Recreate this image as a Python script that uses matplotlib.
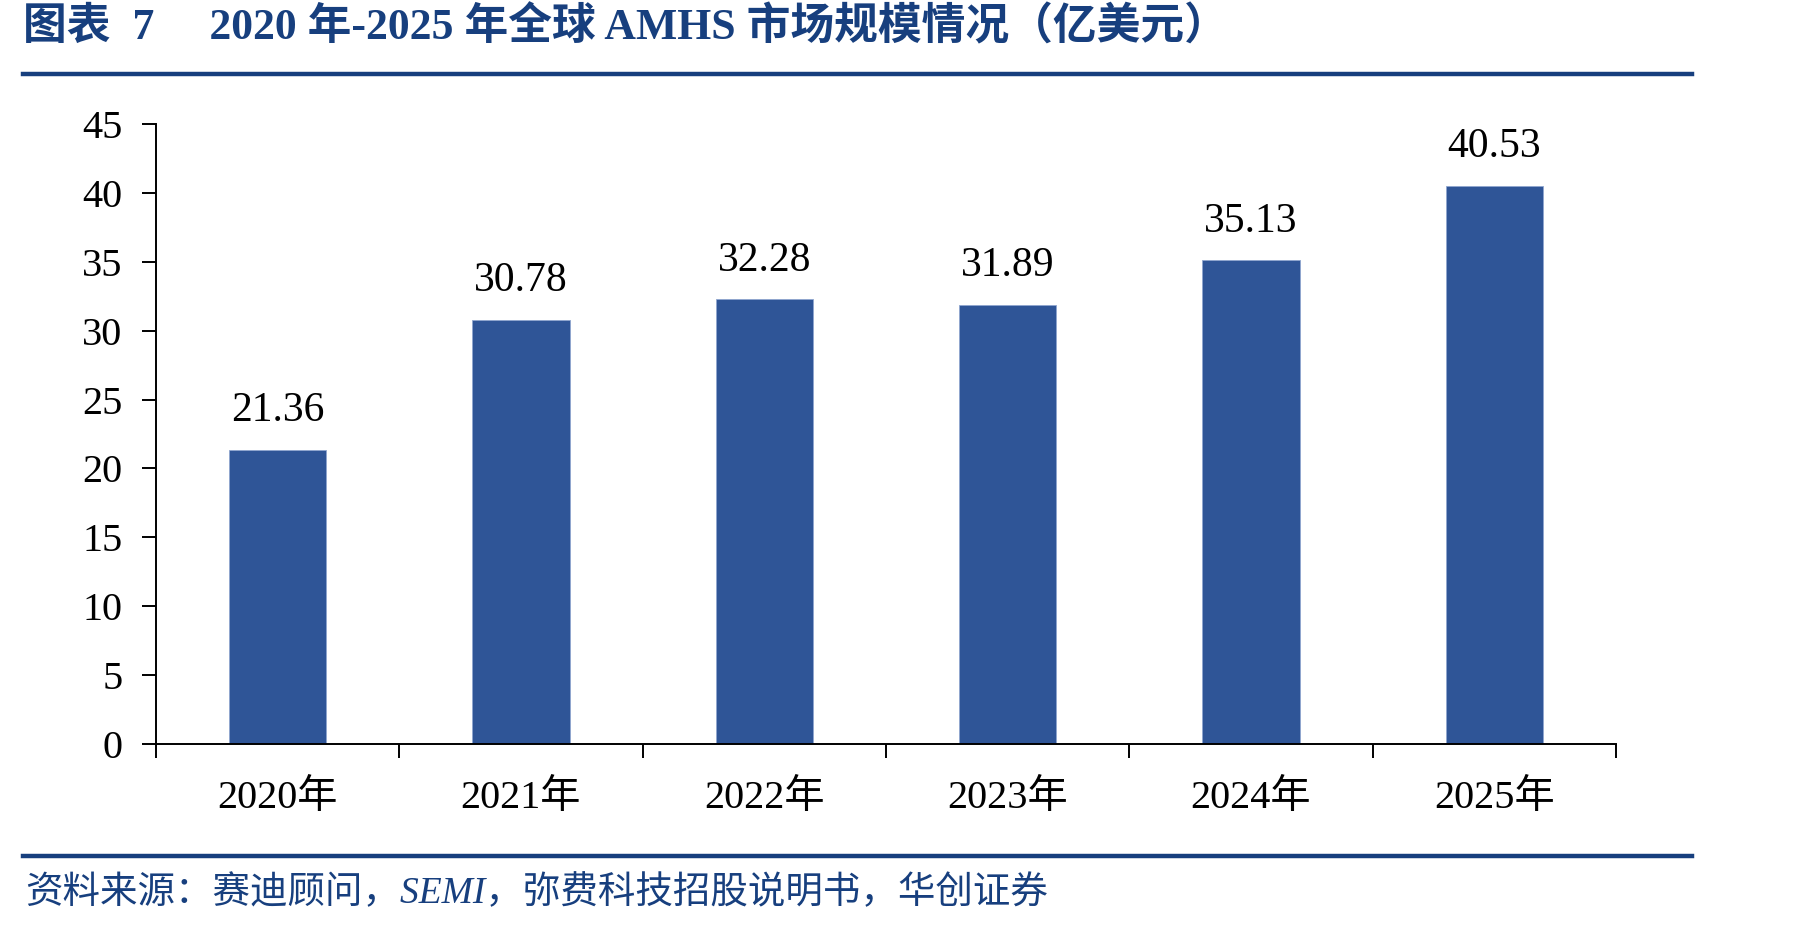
# -*- coding: utf-8 -*-
import matplotlib
matplotlib.use("Agg")
import matplotlib.pyplot as plt
from matplotlib.lines import Line2D
import numpy as np

years = ['2020年', '2021年', '2022年', '2023年', '2024年', '2025年']
market = [21.36, 30.78, 32.28, 31.89, 35.13, 40.53]
yticks = [0, 5, 10, 15, 20, 25, 30, 35, 40, 45]

title = '图表  7     2020 年-2025 年全球 AMHS 市场规模情况（亿美元）'
source = '资料来源：赛迪顾问，SEMI，弥费科技招股说明书，华创证券'

serif = ['Liberation Serif', 'Noto Sans CJK SC']
plt.rcParams['font.family'] = serif

bar_color = '#2F5597'
navy = '#173F7E'

fig = plt.figure(figsize=(18.01, 9.26), dpi=100)
ax = fig.add_axes([0.0866, 0.1965, 0.8107, 0.6696])

x = np.arange(len(years))
bars = ax.bar(x, market, width=0.4, color=bar_color, edgecolor='#8FA6CF', linewidth=0.6)
for xi, v in zip(x, market):
    ax.annotate('{:.2f}'.format(v), (xi, v), xytext=(0, 14), textcoords='offset points',
                ha='center', va='bottom', fontsize=30, color='black')

ax.set_xlim(-0.5, len(years) - 0.5)
ax.set_ylim(0, 45)
ax.set_yticks(yticks)
ax.tick_params(axis='y', direction='out', length=10, width=1.4, labelsize=29, pad=14)

# 分类边界画刻度，标签放在中间
ax.set_xticks(np.arange(-0.5, len(years), 1.0))
ax.set_xticklabels([])
ax.set_xticks(x, minor=True)
ax.set_xticklabels(years, minor=True)
ax.tick_params(axis='x', which='major', direction='out', length=10, width=1.4)
ax.tick_params(axis='x', which='minor', length=0, labelsize=29, pad=26)

for s in ['top', 'right']:
    ax.spines[s].set_visible(False)
for s in ['left', 'bottom']:
    ax.spines[s].set_linewidth(1.4)

fig.text(0.0128, 0.971, title, fontsize=31.5, fontweight='bold', color=navy,
         ha='left', va='center', family=serif)
fig.add_artist(Line2D([0.0128, 0.9395], [0.9205, 0.9205], color=navy, linewidth=3.2))
fig.add_artist(Line2D([0.0128, 0.9395], [0.0755, 0.0755], color=navy, linewidth=3.2))
fig.text(0.014, 0.035, source, fontsize=27, style='italic', color=navy,
         ha='left', va='center', family=serif)

fig.savefig('out.png', dpi=100)
